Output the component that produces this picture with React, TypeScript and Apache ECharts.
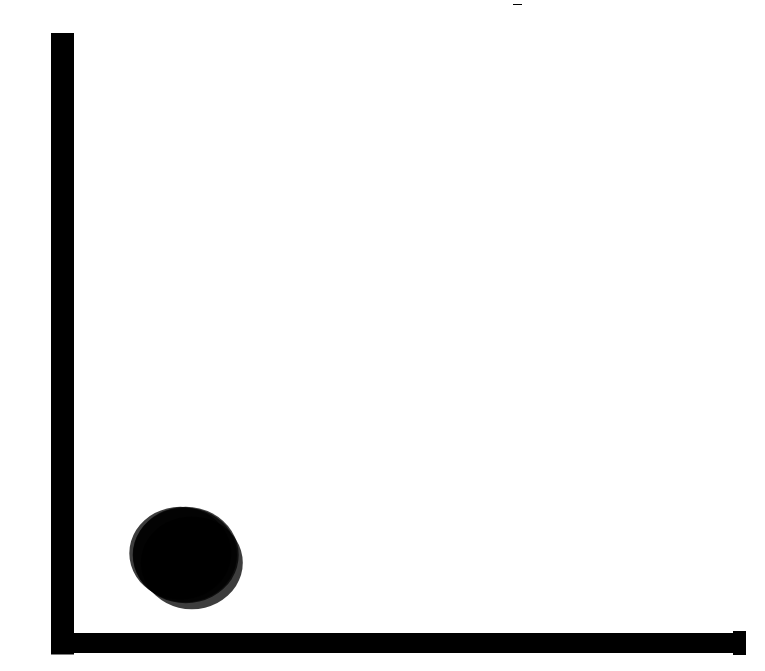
import React, { useEffect, useRef } from "react";
import * as echarts from "echarts";

// Scatter/bubble data
const xValues = [1.82, 1.81, 1.91, 1.74];
const yValues = [1.47, 1.47, 1.34, 1.5];
const bubbleSizes = [106, 104, 102, 102];

const X_MIN = 0;
const X_MAX = 10;
const Y_MIN = 0;
const Y_MAX = 10;

export default function App() {
  const ref = useRef<HTMLDivElement | null>(null);

  useEffect(() => {
    if (!ref.current) return;
    const chart = echarts.init(ref.current, null, { renderer: "svg" });
    const data = xValues.map((x, i) => [x, yValues[i], bubbleSizes[i]]);
    chart.setOption({
      animation: false,
      backgroundColor: "#ffffff",
      grid: { left: 62.5, right: 25.5, top: 44.5, bottom: 28, containLabel: false },
      xAxis: {
        type: "value",
        min: X_MIN,
        max: X_MAX,
        axisLabel: { show: false },
        axisTick: { show: false },
        splitLine: { show: false },
        axisLine: {
          show: true,
          onZero: true,
          symbol: ["none", "rect"],
          symbolSize: [24, 13],
          lineStyle: { color: "#000000", width: 20, cap: "butt" },
        },
      },
      yAxis: {
        type: "value",
        min: Y_MIN,
        max: Y_MAX,
        axisLabel: { show: false },
        axisTick: { show: false },
        splitLine: { show: false },
        axisLine: {
          show: true,
          lineStyle: { color: "#000000", width: 23, cap: "square" },
        },
      },
      graphic: [
        {
          type: "line",
          shape: { x1: 513, y1: 4.5, x2: 522, y2: 4.5 },
          style: { stroke: "#000000", lineWidth: 1 },
          silent: true,
        },
      ],
      series: [
        {
          type: "scatter",
          data,
          symbol: "circle",
          symbolSize: (v: number[]) => [v[2], v[2] * 0.91],
          itemStyle: { color: "#000000", opacity: 0.76 },
          emphasis: { disabled: true },
          z: 1,
        },
      ],
    });
    return () => chart.dispose();
  }, []);

  return (
    <div
      ref={ref}
      style={{ position: "absolute", left: 0, top: 0, width: 765, height: 671 }}
    />
  );
}
